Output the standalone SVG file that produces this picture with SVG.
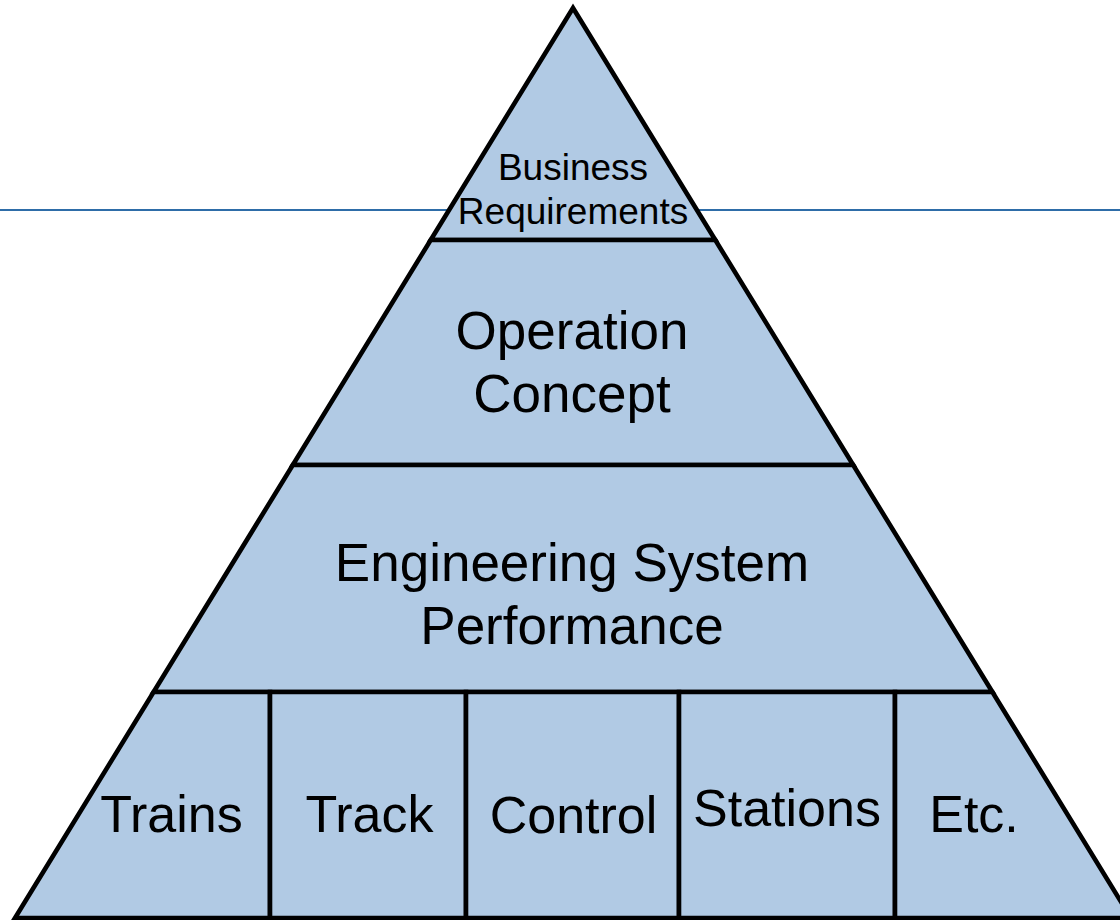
<svg xmlns="http://www.w3.org/2000/svg" width="1120" height="920" viewBox="0 0 1120 920">
<style>
.band{fill:#b1cae4;stroke:#000;stroke-width:4.6;stroke-linejoin:miter}
.t{font-family:"Liberation Sans",Arial,sans-serif;fill:#000;text-anchor:middle}
.s{font-size:37px}
.m{font-size:53px}
.b{font-size:52px}
</style>
<rect x="0" y="0" width="1120" height="920" fill="#fff"/>
<g id="connectors">
<line x1="0" y1="210" x2="1120" y2="210" stroke="#2e6da8" stroke-width="2"/>
</g>
<g id="business">
<polygon class="band" points="573,8 430.7,240 715.3,240"/>
<text class="t s" x="573" y="180">Business</text>
<text class="t s" x="573" y="224">Requirements</text>
</g>
<g id="operation">
<polygon class="band" points="430.7,240 715.3,240 853.2,465 292.8,465"/>
<text class="t m" x="572" y="349">Operation</text>
<text class="t m" x="572" y="412">Concept</text>
</g>
<g id="engineering">
<polygon class="band" points="292.8,465 853.2,465 992.4,692 153.6,692"/>
<text class="t m" x="572" y="581">Engineering System</text>
<text class="t m" x="572" y="644">Performance</text>
</g>
<g id="trains">
<polygon class="band" points="153.6,692 270,692 270,918 15,918"/>
<text class="t b" x="171.5" y="832">Trains</text>
</g>
<g id="track">
<polygon class="band" points="270,692 466,692 466,918 270,918"/>
<text class="t b" x="369.5" y="832">Track</text>
</g>
<g id="control">
<polygon class="band" points="466,692 679,692 679,918 466,918"/>
<text class="t b" x="573.5" y="833">Control</text>
</g>
<g id="stations">
<polygon class="band" points="679,692 895,692 895,918 679,918"/>
<text class="t b" x="787" y="826">Stations</text>
</g>
<g id="etc">
<polygon class="band" points="895,692 992.4,692 1131,918 895,918"/>
<text class="t b" x="974" y="832">Etc.</text>
</g>
</svg>
